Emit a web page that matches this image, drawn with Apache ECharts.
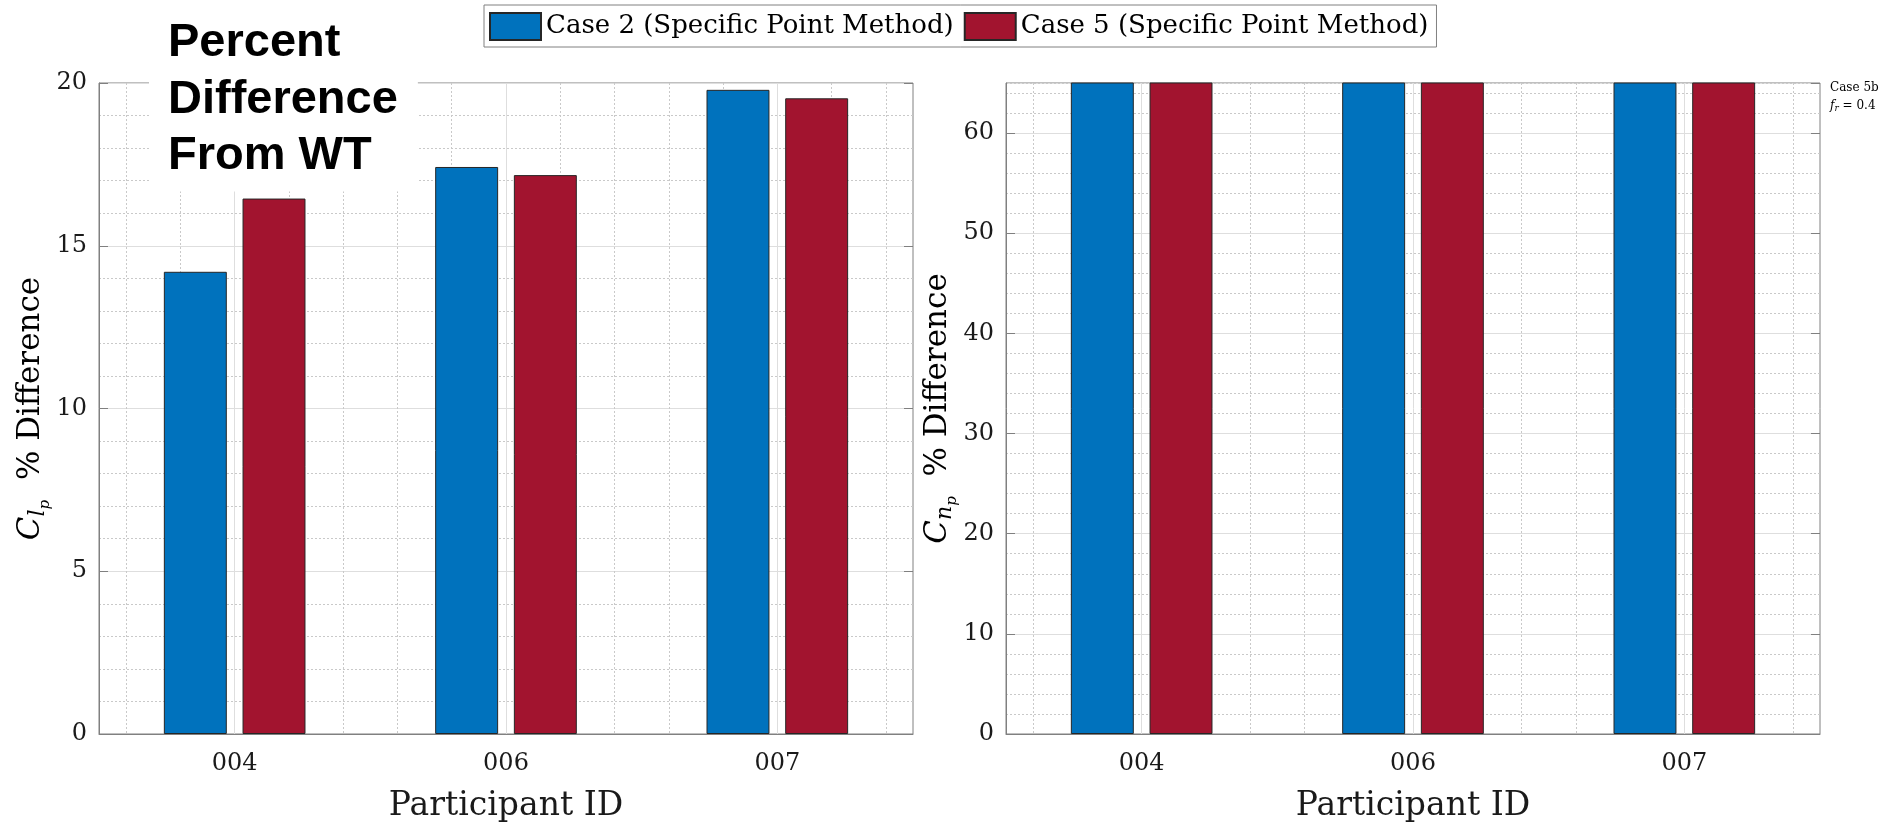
<!DOCTYPE html>
<html><head><meta charset="utf-8">
<script src="https://cdn.jsdelivr.net/npm/echarts@6/dist/echarts.min.js"></script>
<style>html,body{margin:0;padding:0;background:#fff}#c{width:1897px;height:826px}</style>
</head><body><div id="c"></div>
<script>
// ---- data ----
const categories = ['004', '006', '007'];
const seriesNames = ['Case 2 (Specific Point Method)', 'Case 5 (Specific Point Method)'];
const clpCase2 = [14.2, 17.42, 19.79];
const clpCase5 = [16.45, 17.17, 19.53];
// C_np bars run off the top of the axis (clipped at 65)
const cnpCase2 = [80, 80, 80];
const cnpCase5 = [80, 80, 80];
const clpAxis = [0, 20, 5, 1];   // min, max, major interval, minor interval
const cnpAxis = [0, 65, 10, 2];

// ---- style ----
const BLUE = '#0072BD', RED = '#A2142F';
const AX = '#808080', MAJ = '#dedede', MIN = '#c9c9c9', T = 'rgba(0,0,0,0)';
const SERIF = 'DejaVu Serif';

function yName(sub) {
  return {
    text: '{c|C}{s|' + sub + '}{ss|p}{t|  % Difference}',
    rich: {
      c: {fontFamily: SERIF, fontStyle: 'italic', fontSize: 31, color: '#000'},
      s: {fontFamily: SERIF, fontStyle: 'italic', fontSize: 22, color: '#000', padding: [14, 0, 0, 0]},
      ss: {fontFamily: SERIF, fontStyle: 'italic', fontSize: 15, color: '#000', padding: [28, 0, 0, 0]},
      t: {fontFamily: SERIF, fontSize: 31, color: '#000'}
    }
  };
}

const grids = [
  {left: 99, top: 83, width: 814, height: 651, show: true, borderColor: AX, borderWidth: 1, outerBoundsMode: 'none'},
  {left: 1006, top: 83, width: 814, height: 651, show: true, borderColor: AX, borderWidth: 1, outerBoundsMode: 'none'}
];

const xAxes = [], yAxes = [];
[clpAxis, cnpAxis].forEach((ax, g) => {
  // main category axis
  xAxes.push({
    type: 'category', gridIndex: g, data: categories, position: 'bottom',
    axisLine: {lineStyle: {color: AX}},
    axisTick: {inside: true, alignWithLabel: true, length: 9, lineStyle: {color: AX}},
    axisLabel: {fontFamily: SERIF, fontSize: 24, color: '#1a1a1a', margin: 18},
    splitLine: {show: false},
    name: 'Participant ID', nameLocation: 'middle', nameGap: 56,
    nameTextStyle: {fontFamily: SERIF, fontSize: 33, color: '#1a1a1a'}
  });
  // top ticks
  xAxes.push({
    type: 'category', gridIndex: g, data: categories, position: 'top',
    axisLine: {show: false}, axisLabel: {show: false}, splitLine: {show: false},
    axisTick: {inside: true, alignWithLabel: true, length: 9, lineStyle: {color: AX}}
  });
  // minor vertical grid
  xAxes.push({
    type: 'value', gridIndex: g, min: 0.5, max: 3.5, interval: 0.1, position: 'bottom',
    axisLine: {show: false}, axisTick: {show: false}, axisLabel: {show: false},
    splitLine: {show: true, showMinLine: true, showMaxLine: true,
      lineStyle: {color: [T, MIN, T, MIN, T, T, T, MIN, T, MIN], type: [2, 2], width: 1}}
  });
  // major vertical grid
  xAxes.push({
    type: 'value', gridIndex: g, min: 0.5, max: 3.5, interval: 0.5, position: 'bottom',
    axisLine: {show: false}, axisTick: {show: false}, axisLabel: {show: false},
    splitLine: {show: true, showMinLine: true, showMaxLine: true, lineStyle: {color: [T, MAJ], width: 1}}
  });

  const nm = yName(g === 0 ? 'l' : 'n');
  yAxes.push({
    type: 'value', gridIndex: g, min: ax[0], max: ax[1], interval: ax[2], position: 'left',
    axisLine: {show: true, lineStyle: {color: AX}},
    axisTick: {show: true, inside: true, length: 9, lineStyle: {color: AX}},
    axisLabel: {fontFamily: SERIF, fontSize: 24, color: '#1a1a1a', margin: 12, showMaxLabel: ax[1] % ax[2] === 0},
    splitLine: {show: true, lineStyle: {color: MAJ, width: 1}},
    name: nm.text, nameLocation: 'middle', nameGap: 35,
    nameTextStyle: {fontFamily: SERIF, fontSize: 31, color: '#000', rich: nm.rich}
  });
  yAxes.push({
    type: 'value', gridIndex: g, min: ax[0], max: ax[1], interval: ax[2], position: 'right',
    axisLine: {show: false}, axisLabel: {show: false}, splitLine: {show: false},
    axisTick: {show: true, inside: true, length: 9, lineStyle: {color: AX}}
  });
  yAxes.push({
    type: 'value', gridIndex: g, min: ax[0], max: ax[1], interval: ax[3], position: 'left',
    axisLine: {show: false}, axisLabel: {show: false}, axisTick: {show: false},
    splitLine: {show: true, showMinLine: true, showMaxLine: true,
      lineStyle: {color: [T, MIN, MIN, MIN, MIN], type: [2, 2], width: 1}}
  });
});

function bar(name, data, g, color) {
  return {
    type: 'bar', name: name, xAxisIndex: g * 4, yAxisIndex: g * 3, data: data,
    barWidth: '23.2%', barGap: '25%', clip: true, silent: true,
    itemStyle: {color: color, borderColor: '#262626', borderWidth: 1}
  };
}

const option = {
  backgroundColor: '#fff',
  animation: false,
  grid: grids,
  xAxis: xAxes,
  yAxis: yAxes,
  legend: {
    data: seriesNames, left: 484, top: 5, padding: [7, 8, 6, 5],
    itemGap: 10, itemWidth: 51, itemHeight: 27, icon: 'rect',
    borderColor: AX, borderWidth: 1, backgroundColor: '#fff',
    textStyle: {fontFamily: SERIF, fontSize: 26, color: '#000'}
  },
  title: [
    {
      text: 'Percent\nDifference\nFrom WT', left: 149, top: 0,
      backgroundColor: '#fff', padding: [15, 20, 7, 19],
      textStyle: {fontFamily: 'Liberation Sans', fontWeight: 'bold', fontSize: 47, lineHeight: 56.5, color: '#000'}
    },
    {
      text: 'Case 5b\n{i|f}{s|r} = 0.4', left: 1830, top: 79, padding: 0,
      textStyle: {fontFamily: SERIF, fontSize: 12, lineHeight: 18, color: '#000', fontWeight: 'normal',
        rich: {i: {fontFamily: SERIF, fontStyle: 'italic', fontSize: 12}, s: {fontFamily: SERIF, fontStyle: 'italic', fontSize: 9, padding: [5, 0, 0, 0]}}}
    }
  ],
  series: [
    bar(seriesNames[0], clpCase2, 0, BLUE),
    bar(seriesNames[1], clpCase5, 0, RED),
    bar(seriesNames[0], cnpCase2, 1, BLUE),
    bar(seriesNames[1], cnpCase5, 1, RED)
  ]
};

const chart = echarts.init(document.getElementById('c'), null, {renderer: 'canvas'});
chart.setOption(option);
</script>
</body></html>
